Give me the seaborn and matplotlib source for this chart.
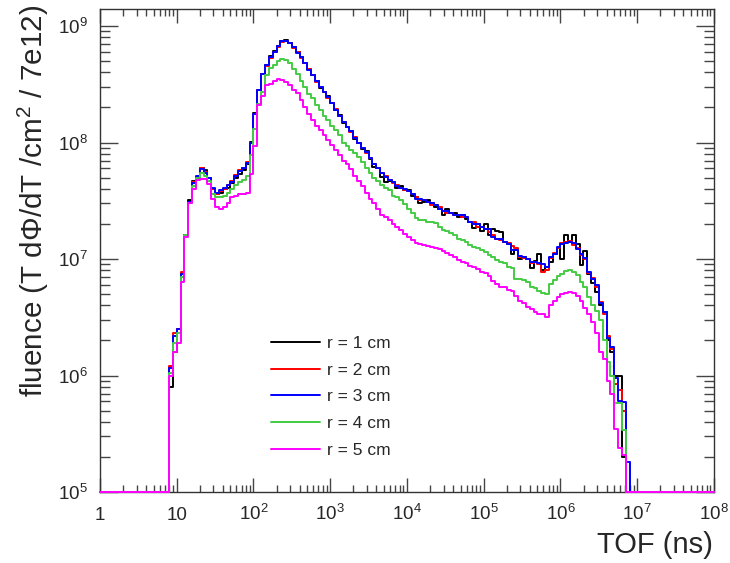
import numpy as np
import pandas as pd
import seaborn as sns
import matplotlib
matplotlib.use("Agg")
import matplotlib.pyplot as plt
from matplotlib.ticker import FixedLocator, FixedFormatter, LogLocator, NullFormatter


BINS_PER_DECADE = 20  # log binning, 1 ns .. 1e8 ns
FIRST_BIN = 18        # first filled bin starts at 10^0.9 ns
Y_MIN, Y_MAX = 1e5, 1.4e9

radius_labels = ["r = 1 cm", "r = 2 cm", "r = 3 cm", "r = 4 cm", "r = 5 cm"]
line_colors = ["#000000", "#ff0000", "#0000ff", "#44cc44", "#ff00ff"]

# fluence per bin (bins 18..137)
fluence_r1 = [
    8.0e5, 1.6e6, 2.5e6, 7.0e6, 1.6e7, 3.2e7, 4.7e7, 5.0e7, 6.1e7, 5.8e7,
    5.0e7, 4.0e7, 3.6e7, 3.7e7, 4.0e7, 4.1e7, 4.5e7, 5.0e7, 5.4e7, 5.8e7,
    6.6e7, 1.02e8, 1.8e8, 2.8e8, 3.9e8, 4.6e8, 5.5e8, 6.1e8, 6.7e8, 7.5e8,
    7.6e8, 7.2e8, 6.6e8, 6.0e8, 5.4e8, 4.8e8, 4.3e8, 3.8e8, 3.4e8, 2.95e8,
    2.7e8, 2.5e8, 2.2e8, 1.9e8, 1.72e8, 1.48e8, 1.37e8, 1.26e8, 1.08e8, 1.0e8,
    8.8e7, 8.4e7, 7.2e7, 6.2e7, 6.1e7, 5.1e7, 4.6e7, 4.7e7, 4.6e7, 4.1e7,
    4.2e7, 3.9e7, 3.9e7, 3.5e7, 3.4e7, 3.0e7, 3.1e7, 3.2e7, 3.0e7, 2.8e7,
    2.7e7, 2.4e7, 2.7e7, 2.5e7, 2.5e7, 2.3e7, 2.4e7, 2.2e7, 2.1e7, 1.85e7,
    2.0e7, 1.75e7, 2.0e7, 1.6e7, 1.8e7, 1.75e7, 1.7e7, 1.4e7, 1.35e7, 1.1e7,
    1.2e7, 1.0e7, 1.05e7, 1.0e7, 8.3e6, 9.6e6, 1.1e7, 8.0e6, 8.6e6, 9.4e6,
    1.1e7, 1.25e7, 1.0e7, 1.6e7, 1.4e7, 1.6e7, 1.35e7, 8.9e6, 1.17e7, 7.5e6,
    6.2e6, 5.2e6, 4.0e6, 3.5e6, 2.0e6, 1.6e6, 1.0e6, 1.0e6, 2.0e5, 0,
]
fluence_r2 = [
    1.2e6, 2.3e6, 2.5e6, 7.8e6, 1.6e7, 3.1e7, 4.6e7, 5.1e7, 6.0e7, 5.6e7,
    5.0e7, 4.0e7, 3.6e7, 3.8e7, 4.0e7, 4.3e7, 4.7e7, 5.3e7, 5.8e7, 6.0e7,
    6.8e7, 1.0e8, 1.75e8, 2.8e8, 3.9e8, 4.5e8, 5.3e8, 6.0e8, 6.6e8, 7.3e8,
    7.4e8, 7.1e8, 6.5e8, 6.0e8, 5.3e8, 4.8e8, 4.3e8, 3.8e8, 3.3e8, 3.0e8,
    2.7e8, 2.4e8, 2.2e8, 1.95e8, 1.7e8, 1.5e8, 1.36e8, 1.24e8, 1.12e8, 1.0e8,
    9.0e7, 8.2e7, 7.4e7, 6.5e7, 6.0e7, 5.5e7, 5.2e7, 4.8e7, 4.5e7, 4.3e7,
    4.1e7, 3.9e7, 3.8e7, 3.6e7, 3.4e7, 3.2e7, 3.2e7, 3.1e7, 2.9e7, 2.9e7,
    2.8e7, 2.6e7, 2.5e7, 2.5e7, 2.4e7, 2.4e7, 2.3e7, 2.3e7, 2.1e7, 2.1e7,
    1.9e7, 1.9e7, 1.8e7, 1.7e7, 1.6e7, 1.5e7, 1.45e7, 1.4e7, 1.37e7, 1.3e7,
    1.25e7, 1.05e7, 1.02e7, 1.0e7, 9.3e6, 9.5e6, 9.0e6, 7.8e6, 8.0e6, 1.02e7,
    1.12e7, 1.24e7, 1.36e7, 1.4e7, 1.42e7, 1.33e7, 1.25e7, 1.08e7, 1.0e7, 7.6e6,
    6.9e6, 5.8e6, 4.3e6, 3.4e6, 2.2e6, 1.7e6, 8.5e5, 7.5e5, 5.0e5, 0,
]
fluence_r3 = [
    1.15e6, 2.2e6, 2.5e6, 7.4e6, 1.6e7, 3.1e7, 4.5e7, 5.2e7, 5.9e7, 5.5e7,
    5.0e7, 4.1e7, 3.7e7, 3.9e7, 4.1e7, 4.3e7, 4.6e7, 5.2e7, 5.7e7, 6.0e7,
    6.7e7, 1.0e8, 1.75e8, 2.8e8, 3.9e8, 4.6e8, 5.4e8, 6.0e8, 6.7e8, 7.4e8,
    7.5e8, 7.1e8, 6.6e8, 5.9e8, 5.4e8, 4.8e8, 4.2e8, 3.8e8, 3.35e8, 3.0e8,
    2.7e8, 2.45e8, 2.2e8, 1.9e8, 1.7e8, 1.5e8, 1.37e8, 1.25e8, 1.1e8, 1.0e8,
    8.9e7, 8.3e7, 7.3e7, 6.6e7, 6.0e7, 5.5e7, 5.1e7, 4.8e7, 4.6e7, 4.2e7,
    4.1e7, 4.0e7, 3.8e7, 3.6e7, 3.3e7, 3.3e7, 3.2e7, 3.1e7, 3.0e7, 2.9e7,
    2.7e7, 2.6e7, 2.6e7, 2.5e7, 2.4e7, 2.4e7, 2.4e7, 2.3e7, 2.1e7, 2.0e7,
    2.0e7, 1.9e7, 1.8e7, 1.8e7, 1.55e7, 1.5e7, 1.5e7, 1.4e7, 1.35e7, 1.2e7,
    1.2e7, 1.07e7, 1.04e7, 1.0e7, 9.4e6, 9.4e6, 9.2e6, 9.0e6, 8.5e6, 1.04e7,
    1.1e7, 1.26e7, 1.35e7, 1.37e7, 1.4e7, 1.37e7, 1.23e7, 1.1e7, 1.02e7, 7.7e6,
    6.8e6, 6.0e6, 4.2e6, 3.5e6, 2.1e6, 1.75e6, 9.5e5, 6.0e5, 5.9e5, 1.8e5,
]
fluence_r4 = [
    1.05e6, 1.9e6, 2.3e6, 7.0e6, 1.6e7, 3.0e7, 4.2e7, 5.0e7, 5.5e7, 5.2e7,
    4.7e7, 3.6e7, 3.4e7, 3.4e7, 3.5e7, 3.7e7, 4.0e7, 4.3e7, 4.6e7, 4.8e7,
    5.2e7, 7.8e7, 1.3e8, 2.15e8, 2.7e8, 3.8e8, 4.4e8, 4.6e8, 5.0e8, 5.2e8,
    5.1e8, 4.8e8, 4.3e8, 3.9e8, 3.4e8, 3.0e8, 2.6e8, 2.4e8, 2.1e8, 1.9e8,
    1.7e8, 1.55e8, 1.4e8, 1.27e8, 1.15e8, 1.0e8, 9.3e7, 8.6e7, 8.1e7, 7.5e7,
    6.8e7, 6.1e7, 5.5e7, 5.0e7, 4.7e7, 4.3e7, 4.05e7, 3.9e7, 3.5e7, 3.4e7,
    3.2e7, 2.95e7, 2.7e7, 2.5e7, 2.24e7, 2.15e7, 2.15e7, 2.1e7, 2.07e7, 2.03e7,
    1.87e7, 1.77e7, 1.73e7, 1.66e7, 1.6e7, 1.5e7, 1.45e7, 1.4e7, 1.31e7, 1.26e7,
    1.24e7, 1.19e7, 1.14e7, 1.08e7, 1.04e7, 9.8e6, 9.4e6, 9.2e6, 8.5e6, 8.3e6,
    6.8e6, 6.8e6, 6.6e6, 6.3e6, 5.7e6, 5.6e6, 5.3e6, 5.1e6, 5.06e6, 6.1e6,
    6.6e6, 7.1e6, 7.5e6, 7.85e6, 8.1e6, 7.75e6, 7.3e6, 6.4e6, 5.8e6, 4.7e6,
    4.0e6, 3.6e6, 3.0e6, 2.0e6, 1.3e6, 1.0e6, 5.8e5, 5.8e5, 3.4e5, 0,
]
fluence_r5 = [
    1.0e6, 1.6e6, 1.9e6, 6.3e6, 1.55e7, 3.0e7, 4.0e7, 4.8e7, 4.9e7, 4.9e7,
    4.4e7, 3.3e7, 2.8e7, 2.7e7, 2.8e7, 3.0e7, 3.4e7, 3.5e7, 3.6e7, 3.6e7,
    3.7e7, 5.4e7, 9.4e7, 2.1e8, 2.5e8, 3.1e8, 3.2e8, 3.4e8, 3.5e8, 3.45e8,
    3.3e8, 3.1e8, 2.8e8, 2.64e8, 2.3e8, 2.0e8, 1.77e8, 1.55e8, 1.4e8, 1.27e8,
    1.15e8, 1.05e8, 9.5e7, 8.6e7, 7.8e7, 7.0e7, 6.5e7, 5.9e7, 5.2e7, 4.7e7,
    4.2e7, 3.7e7, 3.3e7, 3.0e7, 2.7e7, 2.4e7, 2.3e7, 2.15e7, 2.0e7, 1.87e7,
    1.77e7, 1.63e7, 1.54e7, 1.45e7, 1.37e7, 1.34e7, 1.31e7, 1.29e7, 1.26e7, 1.24e7,
    1.21e7, 1.17e7, 1.12e7, 1.08e7, 1.04e7, 9.8e6, 9.4e6, 9.2e6, 8.7e6, 8.5e6,
    8.2e6, 7.7e6, 7.55e6, 7.1e6, 6.45e6, 6.1e6, 5.8e6, 5.7e6, 5.4e6, 5.3e6,
    4.8e6, 4.4e6, 4.2e6, 3.9e6, 3.7e6, 3.5e6, 3.4e6, 3.37e6, 3.2e6, 4.0e6,
    4.4e6, 4.7e6, 5.0e6, 5.1e6, 5.2e6, 5.1e6, 4.8e6, 4.4e6, 3.8e6, 3.4e6,
    2.9e6, 2.3e6, 1.6e6, 1.4e6, 9.0e5, 7.0e5, 3.5e5, 2.4e5, 2.1e5, 0,
]

x_ticks = [1, 1e1, 1e2, 1e3, 1e4, 1e5, 1e6, 1e7, 1e8]
x_tick_labels = ["1", "10", "$10^{2}$", "$10^{3}$", "$10^{4}$", "$10^{5}$",
                 "$10^{6}$", "$10^{7}$", "$10^{8}$"]
y_ticks = [1e5, 1e6, 1e7, 1e8, 1e9]
y_tick_labels = ["$10^{5}$", "$10^{6}$", "$10^{7}$", "$10^{8}$", "$10^{9}$"]


edges = np.logspace(0, 8, 8 * BINS_PER_DECADE + 1)

frames = []
for label, values in zip(radius_labels,
                         [fluence_r1, fluence_r2, fluence_r3, fluence_r4, fluence_r5]):
    counts = np.zeros(len(edges) - 1)
    counts[FIRST_BIN:FIRST_BIN + len(values)] = values
    # empty bins sit on the frame floor, like ROOT does on a log axis
    shown = np.clip(np.append(counts, counts[-1]), Y_MIN, None)
    frames.append(pd.DataFrame({"tof": edges, "fluence": shown, "radius": label}))
df = pd.concat(frames, ignore_index=True)

sns.set_style("ticks")
plt.rcParams["font.family"] = ["Liberation Sans", "DejaVu Sans"]
plt.rcParams["mathtext.fontset"] = "custom"
plt.rcParams["mathtext.rm"] = "Liberation Sans"
plt.rcParams["mathtext.it"] = "Liberation Sans:italic"
plt.rcParams["mathtext.bf"] = "Liberation Sans:bold"

fig, ax = plt.subplots(figsize=(7.3, 5.63), dpi=100)
fig.subplots_adjust(left=0.137, right=0.978, top=0.984, bottom=0.126)

sns.lineplot(data=df, x="tof", y="fluence", hue="radius", hue_order=radius_labels,
             palette=dict(zip(radius_labels, line_colors)), estimator=None, sort=False,
             drawstyle="steps-post", linewidth=1.4, legend=False, clip_on=False,
             zorder=3, ax=ax)

ax.set_xscale("log")
ax.set_yscale("log")
ax.set_xlim(1, 1e8)
ax.set_ylim(Y_MIN, Y_MAX)

ax.xaxis.set_major_locator(FixedLocator(x_ticks))
ax.xaxis.set_major_formatter(FixedFormatter(x_tick_labels))
ax.yaxis.set_major_locator(FixedLocator(y_ticks))
ax.yaxis.set_major_formatter(FixedFormatter(y_tick_labels))
for axis in (ax.xaxis, ax.yaxis):
    axis.set_minor_locator(LogLocator(base=10, subs=np.arange(2, 10), numticks=20))
    axis.set_minor_formatter(NullFormatter())

ax.tick_params(which="both", direction="in", top=True, right=True,
               color="#444444", width=1, labelsize=13.5)
ax.tick_params(axis="x", which="major", length=10, pad=20)
ax.tick_params(axis="x", which="minor", length=5)
ax.tick_params(axis="y", which="major", length=13, pad=8.5)
ax.tick_params(axis="y", which="minor", length=7)
for lab in ax.get_xticklabels():
    lab.set_verticalalignment("baseline")

for spine in ax.spines.values():
    spine.set_color("#333333")
    spine.set_linewidth(1)

ax.set_xlabel("TOF (ns)", fontsize=21, loc="right")
ax.xaxis.set_label_coords(0.998, -0.08)
ax.set_ylabel("fluence (T d\u03a6/dT /cm$^{2}$ / 7e12)", fontsize=21.3, loc="top")
ax.yaxis.set_label_coords(-0.08, 1.008)

ax.legend(ax.get_lines()[:5], radius_labels, loc="upper left",
          bbox_to_anchor=(0.2785, 0.323), frameon=False, fontsize=12.5,
          handlelength=2.8, handletextpad=0.45, labelspacing=0.66,
          borderpad=0, borderaxespad=0)

fig.savefig("out.png", dpi=100)
